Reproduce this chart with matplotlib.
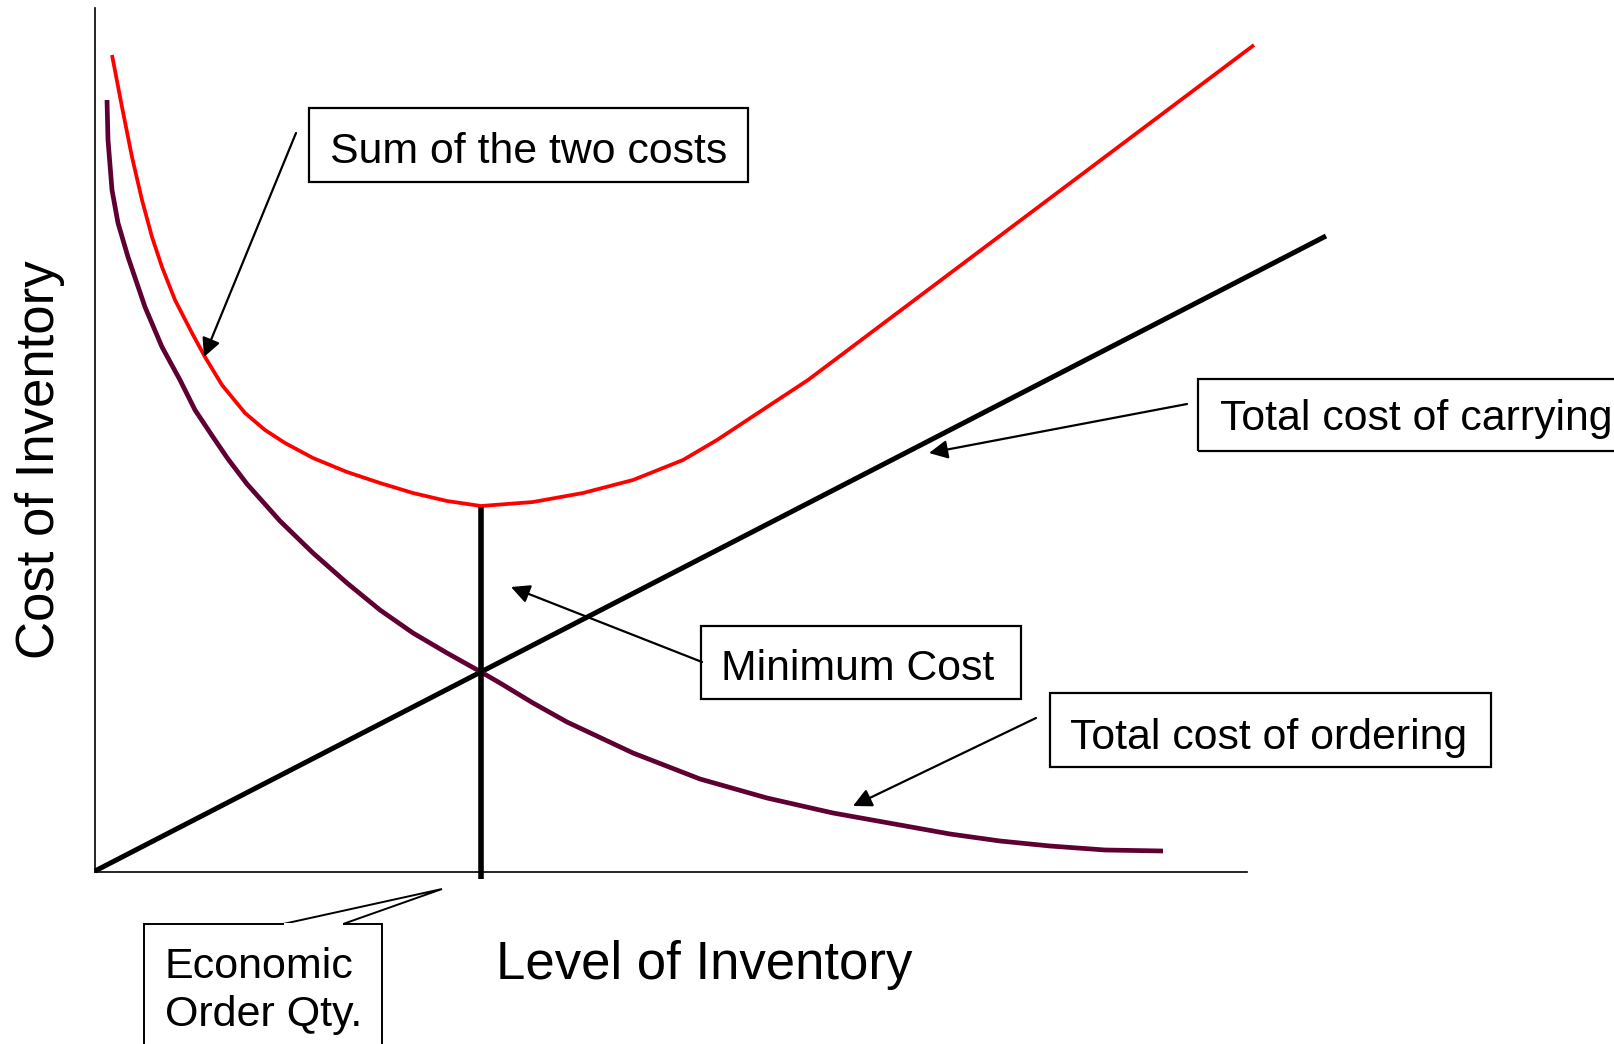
import matplotlib
matplotlib.use("Agg")
import matplotlib.pyplot as plt
from matplotlib.patches import Rectangle, Polygon

plt.rcParams['font.family'] = ['Liberation Sans', 'DejaVu Sans']

###################################################################################
#  Data (inventory level, cost)
###################################################################################
carrying_x = [0, 1231]
carrying_y = [1, 636]

ordering_x = [12, 13, 17, 23, 33, 50, 67, 85, 100, 118, 133, 152, 185, 218, 252,
              285, 318, 352, 386, 405, 438, 472, 538, 605, 672, 738, 805, 855,
              905, 955, 1010, 1068]
ordering_y = [772, 732, 682, 649, 615, 565, 525, 492, 462, 435, 413, 388, 351, 319, 289,
              262, 239, 219, 200, 189, 169, 150, 119, 93, 74, 59, 47, 38,
              31, 26, 22, 21]

sum_x = [17, 27, 37, 47, 57, 67, 80, 97, 110, 127, 150, 170, 190, 218, 252,
         285, 318, 352, 386, 438, 488, 538, 588, 622, 672, 713, 1159]
sum_y = [817, 765, 715, 672, 635, 605, 572, 539, 515, 487, 459, 442, 429, 414, 400,
         389, 379, 371, 366, 370, 379, 392, 412, 432, 465, 492, 827]

eoq_x = 386
eoq_y = [-7, 365]

# callouts: text, text anchor, arrow start, arrow tip, box (x0, y0, x1, y1)
labels = ["Sum of the two costs", "Total cost of carrying", "Minimum Cost", "Total cost of ordering"]
label_pos = [(235, 709), (1125, 442), (626, 192), (975, 123)]
arrow_from = [(201, 739), (1092, 468), (607, 210), (941, 154)]
arrow_to = [(109, 515), (834, 419), (416, 285), (758, 66)]
boxes = [(214, 690, 653, 764), (1103, 421, 1560, 493), (606, 173, 926, 246), (955, 105, 1396, 179)]

###################################################################################
#  Plot
###################################################################################
fig = plt.figure(figsize=(16.15, 10.44), dpi=100)
ax = fig.add_axes([0, 0, 1, 1])
ax.set_xlim(-95, 1520)
ax.set_ylim(-172, 872)

# axes lines
ax.spines['top'].set_visible(False)
ax.spines['right'].set_visible(False)
ax.spines['left'].set_position(('data', 0))
ax.spines['bottom'].set_position(('data', 0))
ax.spines['left'].set_bounds(0, 864)
ax.spines['bottom'].set_bounds(0, 1152)
ax.spines['left'].set_linewidth(1.2)
ax.spines['bottom'].set_linewidth(1.2)
ax.set_xticks([])
ax.set_yticks([])
ax.patch.set_visible(False)

ax.plot(carrying_x, carrying_y, color='black', lw=3.6, solid_capstyle='butt', zorder=3)
ax.plot(ordering_x, ordering_y, color='#5e0032', lw=3.4, solid_capstyle='butt',
        solid_joinstyle='round', zorder=3)
ax.plot(sum_x, sum_y, color='#ff0000', lw=2.7, solid_capstyle='butt',
        solid_joinstyle='round', zorder=3)
ax.plot([eoq_x, eoq_x], eoq_y, color='black', lw=4.0, solid_capstyle='butt', zorder=4)

for txt, pos, a0, a1, b in zip(labels, label_pos, arrow_from, arrow_to, boxes):
    ax.add_patch(Rectangle((b[0], b[1]), b[2] - b[0], b[3] - b[1], fill=False,
                           edgecolor='black', lw=1.6, zorder=5))
    ax.text(pos[0], pos[1], txt, fontsize=30.8, ha='left', va='baseline', zorder=6)
    ax.annotate('', xy=a1, xytext=a0,
                arrowprops=dict(arrowstyle='-|>', color='black', lw=1.6,
                                mutation_scale=28, shrinkA=0, shrinkB=0), zorder=6)

# EOQ callout with wedge pointer
ax.add_patch(Rectangle((49, -200), 238, 148, facecolor='white', edgecolor='black', lw=1.4, zorder=5))
ax.add_patch(Polygon([(188, -52), (347, -17), (248, -52)], closed=False, fill=False,
                     edgecolor='black', lw=1.4, zorder=6))
ax.plot([190, 246], [-52, -52], color='white', lw=2.2, zorder=7)
ax.text(70, -106, "Economic", fontsize=31, ha='left', va='baseline', zorder=8)
ax.text(70, -154, "Order Qty.", fontsize=31, ha='left', va='baseline', zorder=8)

# axis titles
ax.text(609, -107, "Level of Inventory", fontsize=38, ha='center', va='baseline')
ax.text(-55, 412, "Cost of Inventory", fontsize=38, ha='center', va='center', rotation=90)

plt.savefig("out.png", dpi=100)
